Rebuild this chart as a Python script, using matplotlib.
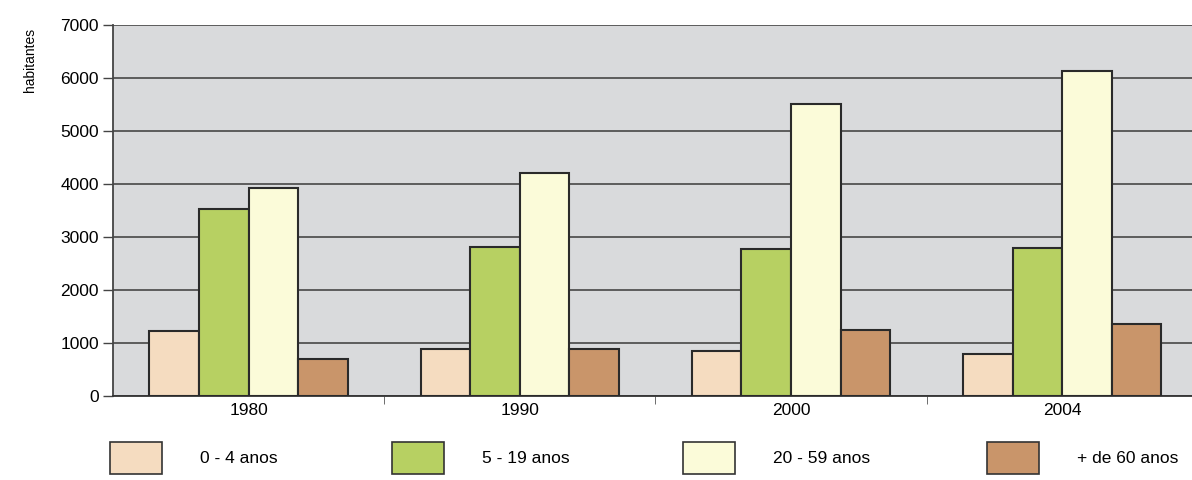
#!/usr/bin/env python3
import matplotlib
matplotlib.use("Agg")
import matplotlib.pyplot as plt
import numpy as np
from matplotlib.patches import Patch
from matplotlib.ticker import MultipleLocator, FixedLocator

plt.rcParams['font.family'] = ['Liberation Sans', 'DejaVu Sans']

years = ['1980', '1990', '2000', '2004']
series = ['0 - 4 anos', '5 - 19 anos', '20 - 59 anos', '+ de 60 anos']
age_0_4 = [1220, 880, 850, 790]
age_5_19 = [3520, 2810, 2780, 2790]
age_20_59 = [3930, 4210, 5510, 6140]
age_60 = [700, 880, 1240, 1360]

colors = ['#f5dcc0', '#b7d062', '#fbfbd9', '#c9956a']
values = [age_0_4, age_5_19, age_20_59, age_60]
FS = 12.5

fig = plt.figure(figsize=(11.92, 4.8), dpi=100)
ax = fig.add_axes([0.0948, 0.175, 0.91, 0.773])
ax.set_facecolor('#d9dadc')

x = np.arange(len(years))
w = 0.183
offsets = (np.arange(len(series)) - 1.5) * w
for vals, off, col in zip(values, offsets, colors):
    ax.bar(x + off, vals, w, color=col, edgecolor='#2a2a2a', linewidth=1.5, zorder=3)

ax.set_xlim(-0.5, 3.5)
ax.set_ylim(0, 7000)
ax.yaxis.set_major_locator(MultipleLocator(1000))
ax.grid(axis='y', color='#3a3a3a', linewidth=1.1, zorder=1)
ax.set_axisbelow(True)

ax.set_xticks(x)
ax.set_xticklabels(years, fontsize=FS)
ax.xaxis.set_minor_locator(FixedLocator([0.5, 1.5, 2.5]))
ax.tick_params(axis='x', which='major', length=0, pad=5)
ax.tick_params(axis='x', which='minor', length=6, color='#555555')
ax.tick_params(axis='y', length=7, width=1, color='#444444', labelsize=FS, pad=3)

for s in ['top', 'right']:
    ax.spines[s].set_visible(False)
ax.spines['left'].set_color('#444444')
ax.spines['left'].set_linewidth(1.3)
ax.spines['bottom'].set_color('#333333')
ax.spines['bottom'].set_linewidth(1.3)

ax.set_ylabel('habitantes', fontsize=10)
ax.yaxis.set_label_coords(-0.07, 0.905)

# one legend entry per box, spread along the bottom like the original
legend_x = [0.092, 0.329, 0.573, 0.828]
for lx, col, name in zip(legend_x, colors, series):
    h = Patch(facecolor=col, edgecolor='#333333', linewidth=1.2)
    fig.legend([h], [name], loc='center left', bbox_to_anchor=(lx, 0.046),
               frameon=False, fontsize=FS, handlelength=3.0, handleheight=2.5,
               handletextpad=2.2, borderpad=0, borderaxespad=0)

fig.savefig('out.png', dpi=100, facecolor='white')
